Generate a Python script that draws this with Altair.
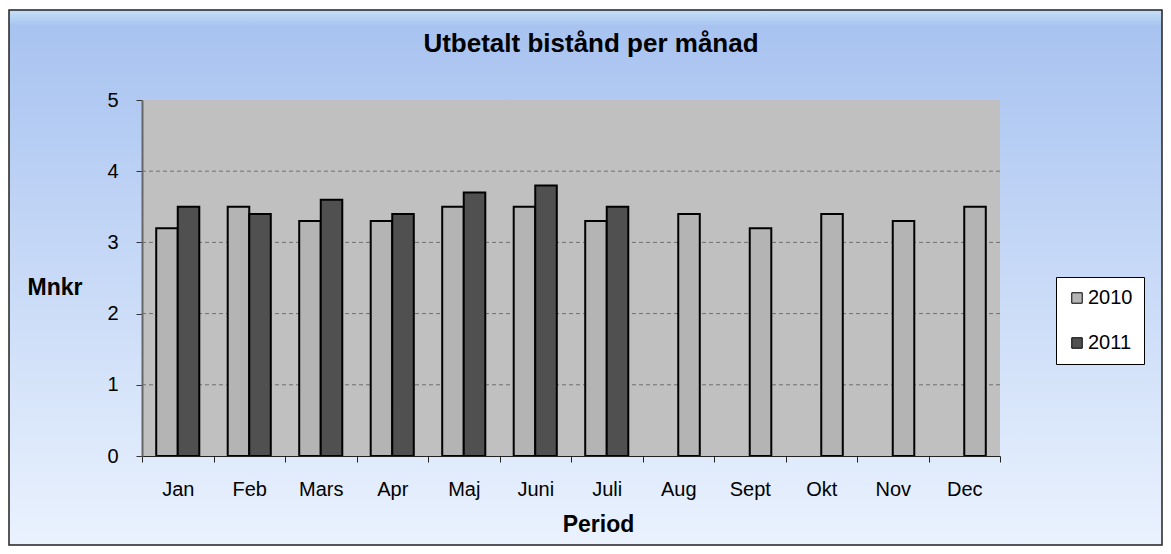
import altair as alt
import pandas as pd

months = ["Jan", "Feb", "Mars", "Apr", "Maj", "Juni", "Juli", "Aug", "Sept", "Okt", "Nov", "Dec"]
v2010 = [3.2, 3.5, 3.3, 3.3, 3.5, 3.5, 3.3, 3.4, 3.2, 3.4, 3.3, 3.5]
v2011 = [3.5, 3.4, 3.6, 3.4, 3.7, 3.8, 3.5]
years = ["2010", "2011"]
y_ticks = [0, 1, 2, 3, 4, 5]
grid_vals = [1, 2, 3, 4]
title_text = "Utbetalt bistånd per månad"

FONT = "Liberation Sans"
W, H = 858, 356
PAD = {"left": 134, "top": 92, "right": 163, "bottom": 90}

rows = []
for i, m in enumerate(months):
    rows.append({"month": m, "year": "2010", "value": v2010[i],
                 "slot": "a" if i < len(v2011) else "b"})
for i, v in enumerate(v2011):
    rows.append({"month": months[i], "year": "2011", "value": v, "slot": "b"})
df = pd.DataFrame(rows)

y_enc = alt.Y(
    "value:Q",
    scale=alt.Scale(domain=[0, 5], nice=False),
    axis=alt.Axis(
        values=y_ticks, title="Mnkr", titleAngle=0, titleX=-115, titleY=187,
        titleAlign="left", titleBaseline="middle", titleFontSize=23,
        titleFontWeight="bold", titleColor="black", labelFontSize=20,
        labelColor="black", labelPadding=18, tickSize=6, tickColor="#333",
        domainColor="#666", domainWidth=2, grid=False, zindex=1,
    ),
)

gradient = alt.LinearGradient(
    gradient="linear",
    stops=[
        alt.GradientStop(color="#c6e0f8", offset=0),
        alt.GradientStop(color="#a8c3f0", offset=0.03),
        alt.GradientStop(color="#eaf2fe", offset=1),
    ],
    x1=0, x2=0, y1=0, y2=1,
)

one = alt.Data(values=[{}])

bg = alt.Chart(one).mark_rect(fill=gradient, stroke="#222222", strokeWidth=1.5).encode(
    x=alt.value(-PAD["left"] + 1), x2=alt.value(W + PAD["right"] - 1),
    y=alt.value(-PAD["top"] + 2), y2=alt.value(H + PAD["bottom"] - 1),
)

plot_bg = alt.Chart(one).mark_rect(fill="#c0c0c0").encode(
    x=alt.value(0), x2=alt.value(W), y=alt.value(0), y2=alt.value(H),
)

grid = alt.Chart(pd.DataFrame({"value": grid_vals})).mark_rule(
    color="#707070", strokeDash=[4, 3], strokeWidth=1
).encode(y=y_enc, x=alt.value(0), x2=alt.value(W))

bars = alt.Chart(df).mark_bar(stroke="black", strokeWidth=2).encode(
    x=alt.X(
        "month:N", sort=months,
        scale=alt.Scale(paddingInner=0, paddingOuter=0),
        axis=alt.Axis(
            title="Period", labelAngle=0, tickBand="extent", tickSize=6,
            labelPadding=17, labelFontSize=20, labelColor="black",
            titleFontSize=23, titleFontWeight="bold", titleColor="black",
            titleX=456, titleY=75, titleAlign="center", titleBaseline="alphabetic",
            domainColor="#222", tickColor="#222",
            grid=False, zindex=1,
        ),
    ),
    xOffset=alt.XOffset("slot:N", scale=alt.Scale(domain=["a", "b"], paddingInner=0, paddingOuter=0.66)),
    y=y_enc,
    color=alt.Color(
        "year:N",
        scale=alt.Scale(domain=years, range=["#b4b4b4", "#505050"]),
        legend=alt.Legend(
            title=None, orient="none", legendX=914, legendY=177,
            fillColor="white", strokeColor="black", padding=11,
            rowPadding=25, labelFontSize=20, labelColor="black",
            symbolType="square", symbolSize=110, symbolStrokeColor="black",
            symbolStrokeWidth=1, labelOffset=1, zindex=2,
        ),
    ),
)

title = alt.Chart(alt.Data(values=[{"t": title_text}])).mark_text(
    fontSize=26, fontWeight="bold", font=FONT, baseline="alphabetic",
    align="center", color="black",
).encode(text="t:N", x=alt.value(449), y=alt.value(-48))

chart = alt.layer(bg, plot_bg, grid, bars, title).properties(
    width=W, height=H, padding=PAD,
    autosize=alt.AutoSizeParams(type="none"),
).configure(font=FONT).configure_view(stroke=None)

chart.save("out.html", embed_options={"renderer": "svg", "actions": False})
